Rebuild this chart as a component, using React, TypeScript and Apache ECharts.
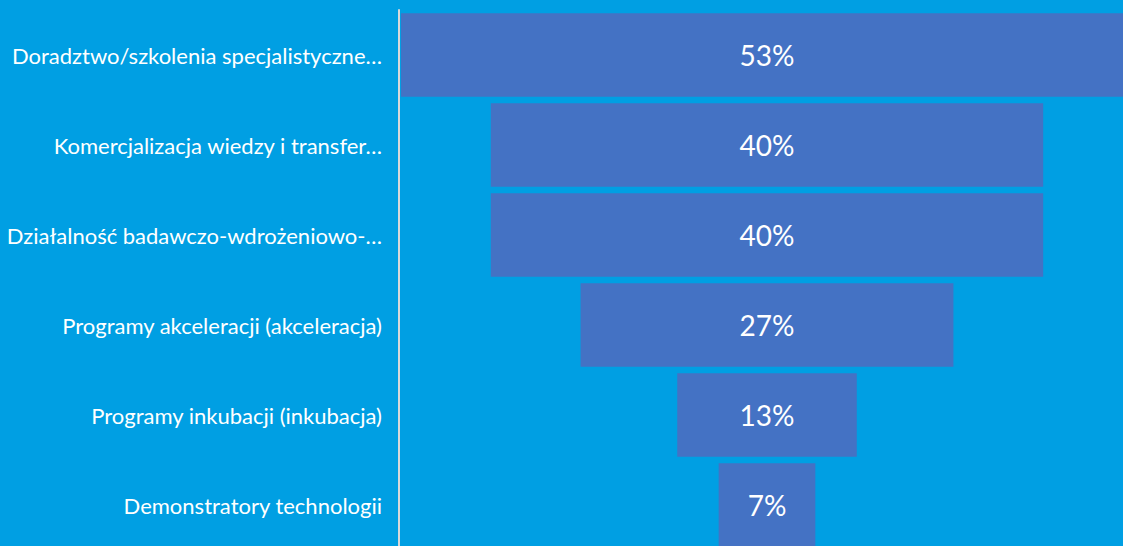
import React, { useEffect, useRef } from "react";
import * as echarts from "echarts";

const categories = [
  "Doradztwo/szkolenia specjalistyczne…",
  "Komercjalizacja wiedzy i transfer…",
  "Działalność badawczo-wdrożeniowo-…",
  "Programy akceleracji (akceleracja)",
  "Programy inkubacji (inkubacja)",
  "Demonstratory technologii",
];
const values = [53, 40, 40, 27, 13, 7];
const axisMax = 53.3;

export default function App() {
  const ref = useRef<HTMLDivElement>(null);
  useEffect(() => {
    if (!ref.current) return;
    const chart = echarts.init(ref.current, null, { renderer: "svg" });
    const offsets = values.map((v) => (axisMax - v) / 2);
    chart.setOption({
      animation: false,
      backgroundColor: "#009FE3",
      grid: {
        left: 399,
        top: 10,
        width: 736,
        height: 540,
        containLabel: false,
        outerBoundsMode: "none",
      },
      xAxis: {
        type: "value",
        min: 0,
        max: axisMax,
        show: false,
      },
      yAxis: {
        type: "category",
        data: categories,
        inverse: true,
        axisLine: { show: true, lineStyle: { color: "#D9D9D9", width: 2 } },
        axisTick: { show: false },
        axisLabel: {
          color: "#FFFFFF",
          fontSize: 22,
          fontFamily: "Lato",
          margin: 17,
        },
      },
      series: [
        {
          type: "bar",
          stack: "f",
          data: offsets,
          itemStyle: { color: "transparent" },
          barCategoryGap: "7%",
          silent: true,
        },
        {
          type: "bar",
          stack: "f",
          data: values,
          itemStyle: { color: "#4472C4" },
          barCategoryGap: "7%",
          label: {
            show: true,
            position: "inside",
            color: "#FFFFFF",
            fontSize: 28,
            fontFamily: "Lato",
            formatter: (p: any) => p.value + "%",
          },
        },
      ],
    });
    return () => chart.dispose();
  }, []);
  return (
    <div
      ref={ref}
      style={{ position: "absolute", left: 0, top: 0, width: 1123, height: 546 }}
    />
  );
}
